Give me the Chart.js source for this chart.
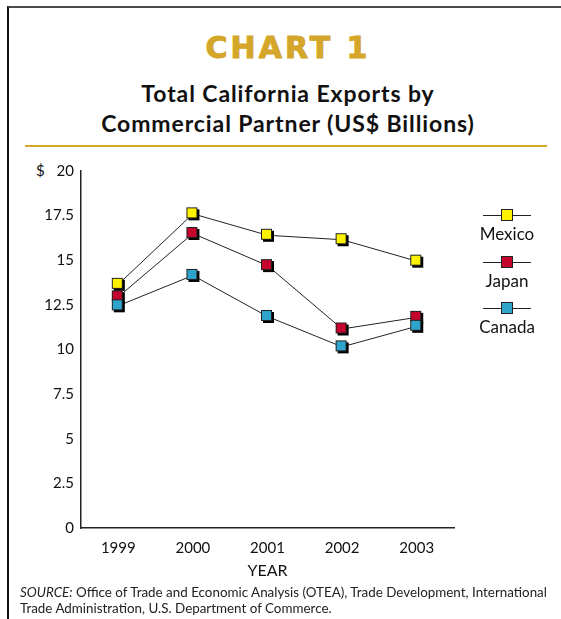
<!DOCTYPE html>
<html>
<head>
<meta charset="utf-8">
<script src="https://cdn.jsdelivr.net/npm/chart.js@4/dist/chart.umd.min.js"></script>
<style>
  body { margin:0; background:#fff; width:561px; height:619px; overflow:hidden; position:relative; font-family:Lato, "Noto Sans", sans-serif; color:#111; }
  #frame { position:absolute; left:7px; top:6px; width:620px; height:700px; border-top:2px solid #4a4a4a; border-left:2px solid #111; }
  .c { position:absolute; left:9px; width:558px; text-align:center; white-space:nowrap; }
  #big { top:29px; font-family:"DejaVu Sans", sans-serif; font-size:30px; line-height:38px; font-weight:700; color:#D4A62A; letter-spacing:3px; -webkit-text-stroke:1px #D4A62A; }
  #sub { top:78px; font-size:23px; line-height:30px; font-weight:700; color:#111; letter-spacing:0.9px; }
  #rule { position:absolute; left:25px; width:522px; top:145px; height:2px; background:#D4A62A; }
  #dollar { position:absolute; left:36px; top:160px; font-size:15px; line-height:20px; }
  #wrap { position:absolute; left:0; top:155px; width:470px; height:430px; }
  #legend { position:absolute; left:470px; top:0; width:74px; }
  .li { position:absolute; left:0; width:74px; text-align:center; }
  .li .ln { position:absolute; left:13px; width:48px; height:1px; background:#222; }
  .li .sq { position:absolute; left:31px; width:10px; height:10px; border:1px solid #222; }
  .li .tx { position:absolute; left:-5px; width:84px; font-size:17px; line-height:20px; }
  #src { position:absolute; left:20px; top:584px; font-size:13.4px; line-height:16px; color:#222; white-space:nowrap; }
</style>
</head>
<body>
<div id="frame"></div>
<div class="c" id="big">CHART 1</div>
<div class="c" id="sub">Total California Exports by<br>Commercial Partner (US$ Billions)</div>
<div id="rule"></div>
<div id="dollar">$</div>
<div id="wrap"><canvas id="chart" width="470" height="430"></canvas></div>
<div id="legend"></div>
<div id="src"><i>SOURCE:</i> Office of Trade and Economic Analysis (OTEA), Trade Development, International<br>Trade Administration, U.S. Department of Commerce.</div>

<script>
const years = ['1999', '2000', '2001', '2002', '2003'];
const mexico = [13.65, 17.6, 16.4, 16.15, 14.95];
const japan = [12.95, 16.5, 14.7, 11.15, 11.8];
const canada = [12.45, 14.15, 11.85, 10.15, 11.3];
const seriesNames = ['Mexico', 'Japan', 'Canada'];
const seriesColors = ['#FFF200', '#C4042C', '#2EA4CC'];
const yTicks = [0, 2.5, 5, 7.5, 10, 12.5, 15, 17.5, 20];

// square marker with a black drop shadow
function marker(color) {
  const c = document.createElement('canvas');
  c.width = 15; c.height = 15;
  const g = c.getContext('2d');
  g.fillStyle = '#000';
  g.fillRect(3, 3, 11, 11);
  g.fillStyle = color;
  g.fillRect(1, 1, 11, 11);
  g.strokeStyle = '#222';
  g.lineWidth = 1;
  g.strokeRect(1.5, 1.5, 10, 10);
  return c;
}

window.addEventListener('load', () => {
  const allData = [mexico, japan, canada];
  const datasets = seriesNames.map((name, i) => ({
    label: name,
    data: allData[i],
    borderColor: '#222',
    borderWidth: 1,
    tension: 0,
    pointStyle: marker(seriesColors[i]),
    pointRadius: 7,
    fill: false
  }));

  new Chart(document.getElementById('chart'), {
    type: 'line',
    data: { labels: years, datasets: datasets.reverse() },
    options: {
      responsive: false,
      animation: false,
      events: [],
      layout: { padding: { top: 15, right: 16, left: 0, bottom: 0 } },
      plugins: { legend: { display: false }, tooltip: { enabled: false } },
      scales: {
        x: {
          offset: true,
          grid: { display: false, drawTicks: false },
          border: { display: true, color: '#222', width: 1.5 },
          ticks: { padding: 11, color: '#111', font: { family: 'Lato', size: 15 } },
          title: { display: true, text: 'YEAR', color: '#111', font: { family: 'Lato', size: 16 }, padding: { bottom: 5 } },
          afterFit: s => { s.height = 57; }
        },
        y: {
          min: 0, max: 20,
          afterBuildTicks: s => { s.ticks = yTicks.map(v => ({ value: v })); },
          grid: { display: false, drawTicks: false },
          border: { display: true, color: '#222', width: 1.5 },
          ticks: { padding: 7, color: '#111', font: { family: 'Lato', size: 15 } },
          afterFit: s => { s.width = 81; }
        }
      }
    }
  });

  // legend: line + marker with the name underneath
  const leg = document.getElementById('legend');
  seriesNames.forEach((name, i) => {
    const top = 215 + i * 46.5;
    const d = document.createElement('div');
    d.className = 'li';
    d.style.top = top + 'px';
    d.innerHTML = '<div class="ln" style="top:0"></div>' +
      '<div class="sq" style="top:-6px;background:' + seriesColors[i] + '"></div>' +
      '<div class="tx" style="top:9px">' + name + '</div>';
    leg.appendChild(d);
  });
});
</script>
</body>
</html>
